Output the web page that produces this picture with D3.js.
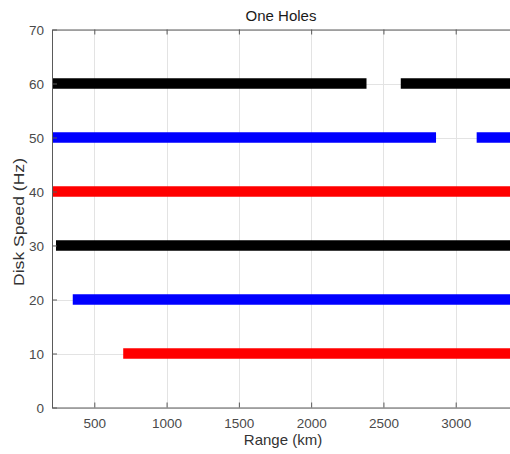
<!DOCTYPE html>
<html>
<head>
<meta charset="utf-8">
<script src="https://cdn.jsdelivr.net/npm/d3@7"></script>
<style>
  body { margin: 0; background: #fff; }
  svg { display: block; font-family: "Liberation Sans", Arial, sans-serif; }
</style>
</head>
<body>
<svg id="chart"></svg>
<script>
// disk speed rows and the range segments drawn on each
var speeds = [60, 50, 40, 30, 20, 10]
var rowColors = ["#000000", "#0000ff", "#ff0000", "#000000", "#0000ff", "#ff0000"]
// [speed, range from, range to]
var segments = [
    [60, 150, 2383], [60, 2620, 3450],
    [50, 150, 2864], [50, 3145, 3450],
    [40, 150, 3450],
    [30, 235, 3450],
    [20, 351, 3450],
    [10, 700, 3450]
]
var xTicks = [500, 1000, 1500, 2000, 2500, 3000]
var yTicks = [0, 10, 20, 30, 40, 50, 60, 70]

var width = 510, height = 454
var mLeft = 52, mRight = 510, mTop = 29.5, mBottom = 407.5

var svg = d3.select("#chart")
    .attr("width", width)
    .attr("height", height)

var x = d3.scaleLinear().domain([207.4, 3375.6]).range([mLeft, mRight])
var y = d3.scaleLinear().domain([0, 70]).range([mBottom, mTop])

svg.append("clipPath").attr("id", "plot")
    .append("rect")
    .attr("x", mLeft).attr("y", mTop)
    .attr("width", mRight - mLeft).attr("height", mBottom - mTop)

// grid
var grid = svg.append("g").attr("stroke", "#e3e3e3").attr("stroke-width", 1)
grid.selectAll("line.gx")
    .data(xTicks)
    .enter().append("line")
    .attr("x1", d => Math.round(x(d)) + 0.5).attr("x2", d => Math.round(x(d)) + 0.5)
    .attr("y1", mTop).attr("y2", mBottom)
grid.selectAll("line.gy")
    .data(yTicks)
    .enter().append("line")
    .attr("y1", d => Math.round(y(d)) + 0.5).attr("y2", d => Math.round(y(d)) + 0.5)
    .attr("x1", mLeft).attr("x2", mRight)

// thick range segments
svg.append("g")
    .attr("clip-path", "url(#plot)")
    .selectAll("line")
    .data(segments)
    .enter().append("line")
    .attr("x1", d => x(d[1]))
    .attr("x2", d => x(d[2]))
    .attr("y1", d => y(d[0]))
    .attr("y2", d => y(d[0]))
    .style("stroke", d => rowColors[speeds.indexOf(d[0])])
    .style("stroke-width", "10.5px")
    .style("stroke-linecap", "butt")

// axes
var fmt = d3.format("d")
var xAxis = svg.append("g")
    .attr("transform", "translate(0," + mBottom + ")")
    .call(d3.axisBottom(x).tickValues(xTicks).tickFormat(fmt).tickSizeInner(-5).tickSizeOuter(0).tickPadding(11))
var xTop = svg.append("g")
    .attr("transform", "translate(0," + mTop + ")")
    .call(d3.axisTop(x).tickValues(xTicks).tickSizeInner(-5).tickSizeOuter(0).tickFormat(""))
var yAxis = svg.append("g")
    .attr("transform", "translate(" + mLeft + ",0)")
    .call(d3.axisLeft(y).tickValues(yTicks).tickFormat(fmt).tickSizeInner(-5).tickSizeOuter(0).tickPadding(8))

;[xAxis, xTop, yAxis].forEach(function (g) {
    g.select(".domain").attr("stroke", "#5a5a5a")
    g.selectAll(".tick line").attr("stroke", "#5a5a5a")
    g.selectAll(".tick text")
        .attr("fill", "#4a4a4a")
        .style("font-size", "13.5px")
        .style("font-family", "Liberation Sans, Arial, sans-serif")
})
yAxis.selectAll(".tick text").attr("dy", "0.36em")

// labels
svg.append("text")
    .attr("x", (mLeft + mRight) / 2).attr("y", 21)
    .attr("text-anchor", "middle")
    .attr("fill", "#1a1a1a")
    .style("font-size", "15px")
    .text("One Holes")

svg.append("text")
    .attr("x", 283).attr("y", 445)
    .attr("text-anchor", "middle")
    .attr("fill", "#333")
    .style("font-size", "15px")
    .text("Range (km)")

svg.append("text")
    .attr("transform", "translate(24,222) rotate(-90)")
    .attr("text-anchor", "middle")
    .attr("fill", "#333")
    .style("font-size", "15px")
    .attr("textLength", 128)
    .attr("lengthAdjust", "spacingAndGlyphs")
    .text("Disk Speed (Hz)")
</script>
</body>
</html>
